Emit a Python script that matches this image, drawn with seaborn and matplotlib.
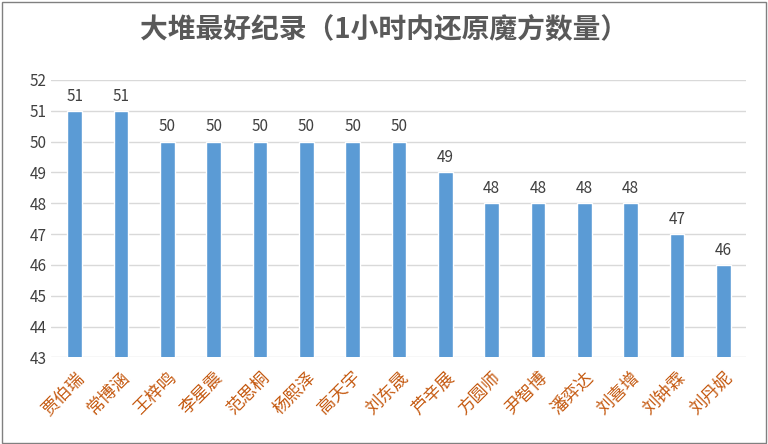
import matplotlib
matplotlib.use("Agg")
import matplotlib.pyplot as plt
import seaborn as sns
import pandas as pd

names = ["贾伯瑞", "常博涵", "王梓鸣", "李星震", "范思桐", "杨熙泽", "高天宇", "刘东晟",
         "芦辛展", "方圆师", "尹智博", "潘弈达", "刘喜增", "刘钟霖", "刘丹妮"]
scores = [51, 51, 50, 50, 50, 50, 50, 50, 49, 48, 48, 48, 48, 47, 46]
yticks = list(range(43, 53))

sns.set_theme(style="white")
plt.rcParams["font.family"] = ["Noto Sans CJK SC", "DejaVu Sans"]

df = pd.DataFrame({"name": names, "score": scores})
fig = plt.figure(figsize=(7.68, 4.44), dpi=100)
ax = fig.add_axes([0.067, 0.195, 0.905, 0.625])
sns.barplot(data=df, x="name", y="score", color="#5B9BD5", saturation=1,
            width=0.32, ax=ax, zorder=3)
ax.set_ylim(43, 52)
ax.set_yticks(yticks)
ax.grid(axis="y", color="#D9D9D9", linewidth=1, zorder=0)
for s in ax.spines.values():
    s.set_visible(False)
ax.set_xlabel("")
ax.set_ylabel("")
ax.tick_params(axis="y", labelsize=11, colors="#404040", length=0)
ax.tick_params(axis="x", labelsize=12.5, colors="#C55A11", length=0, pad=8)
for lbl in ax.get_xticklabels():
    lbl.set_rotation(45)
    lbl.set_ha("right")
    lbl.set_rotation_mode("anchor")
for i, v in enumerate(scores):
    ax.text(i, v + 0.2, str(v), ha="center", va="bottom", fontsize=11, color="#404040")

fig.text(0.5, 0.93, "大堆最好纪录（1小时内还原魔方数量）", ha="center", va="center",
         fontsize=20, fontweight="bold", color="#595959")
fig.patches.append(plt.Rectangle((0.002, 0.003), 0.995, 0.993, transform=fig.transFigure,
                                 fill=False, edgecolor="#808080", linewidth=1))
fig.savefig("out.png", dpi=100)
